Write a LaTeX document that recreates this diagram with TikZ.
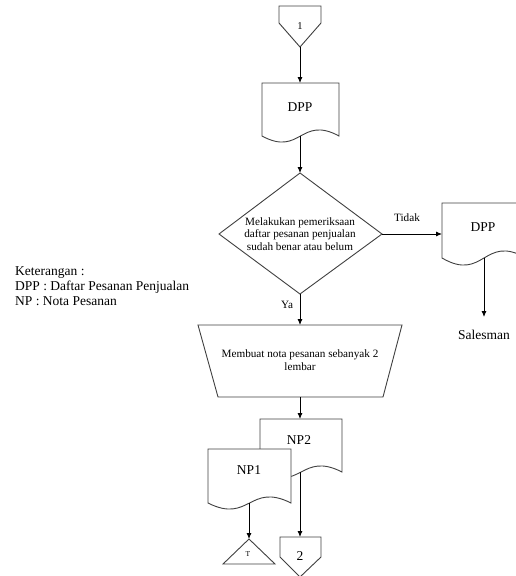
\documentclass[tikz,border=0pt]{standalone}
\usepackage{fontspec}
\setmainfont{Liberation Serif}
\usetikzlibrary{arrows.meta}
\newcommand\docpath[5]{(#1,#2) -- (#3,#2) -- (#3,#4) .. controls ({(#1+#3)/2},{#4-3.5*#5}) and ({(#1+#3)/2},{#4+3.5*#5}) .. (#1,#4) -- cycle}
\begin{document}
\begin{tikzpicture}[x=1pt,y=-1pt,
  shp/.style={draw=black!75, line width=0.9pt, fill=white},
  arr/.style={draw=black, line width=0.9pt, -{Latex[length=6pt,width=5pt]}},
  big/.style={font=\fontsize{13.5}{15}\selectfont, inner sep=0pt},
  small/.style={font=\fontsize{11.2}{12.7}\selectfont, inner sep=0pt, align=center},
]
\useasboundingbox (0,0) rectangle (516,576);
\clip (0,0) rectangle (516,576);

% off-page connector 1
\draw[shp] (279,6) -- (321,6) -- (321,23) -- (300,47) -- (279,23) -- cycle;
\node[font=\fontsize{10.5}{12}\selectfont, inner sep=0pt] (c1lab) at (300,26) {1};
\coordinate (c1b) at (300,47);

% DPP top document
\draw[shp] \docpath{262}{83}{339}{136}{6};
\node[big] (dpp1) at (300,107) {DPP};
\coordinate (dpp1t) at (300,83);
\coordinate (dpp1b) at (300,136);

% decision diamond
\draw[shp] (300,173) -- (382,234) -- (300,294) -- (219,234) -- cycle;
\node[small] (dec) at (300,234) {Melakukan pemeriksaan\\daftar pesanan penjualan\\sudah benar atau belum};
\coordinate (dect) at (300,173);
\coordinate (decr) at (382,234);
\coordinate (decb) at (300,294);

% right DPP document
\draw[shp] \docpath{442}{203}{526}{258}{7};
\node[big] (dpp2) at (483,227) {DPP};
\coordinate (dpp2l) at (442,234);
\coordinate (dpp2b) at (484,258);
\coordinate (sales) at (484,317);
\node[big] (saleslab) at (484,335) {Salesman};

\node[small] (tidak) at (407,218) {Tidak};
\node[small] (ya) at (287,305) {Ya};

% manual operation trapezoid
\draw[shp] (198,325) -- (402,325) -- (383,397) -- (218,397) -- cycle;
\node[small] (trap) at (300,360) {Membuat nota pesanan sebanyak 2\\lembar};
\coordinate (trapt) at (300,325);
\coordinate (trapb) at (300,397);

% NP2 and NP1
\draw[shp] \docpath{260}{419}{342}{472}{6};
\node[big] (np2) at (299,440) {NP2};
\coordinate (np2t) at (300,419);
\coordinate (np2b) at (300,472);

\draw[shp] \docpath{208}{449}{291}{503}{6};
\node[big] (np1) at (249,470) {NP1};
\coordinate (np1b) at (249,503);

% terminator triangle
\draw[shp] (249,539) -- (275,564) -- (223,564) -- cycle;
\node[font=\fontsize{7.5}{9}\selectfont, inner sep=0pt] (tlab) at (248,554) {T};
\coordinate (trit) at (249,539);

% off-page connector 2
\draw[shp] (280,537) -- (321,537) -- (321,557) -- (300,577) -- (280,557) -- cycle;
\node[font=\fontsize{13.5}{15}\selectfont, inner sep=0pt] (c2lab) at (300,556) {2};
\coordinate (c2t) at (300,537);

% legend
\node[big, anchor=base west] (leg1) at (15,275) {Keterangan :};
\node[big, anchor=base west] (leg2) at (15,290) {DPP : Daftar Pesanan Penjualan};
\node[big, anchor=base west] (leg3) at (15,305) {NP : Nota Pesanan};

% connectors
\draw[arr] (c1b) -- (dpp1t);
\draw[arr] (dpp1b) -- (dect);
\draw[arr] (decr) -- (dpp2l);
\draw[arr] (dpp2b) -- (sales);
\draw[arr] (decb) -- (trapt);
\draw[arr] (trapb) -- (np2t);
\draw[arr] (np2b) -- (c2t);
\draw[arr] (np1b) -- (trit);
\end{tikzpicture}
\end{document}
